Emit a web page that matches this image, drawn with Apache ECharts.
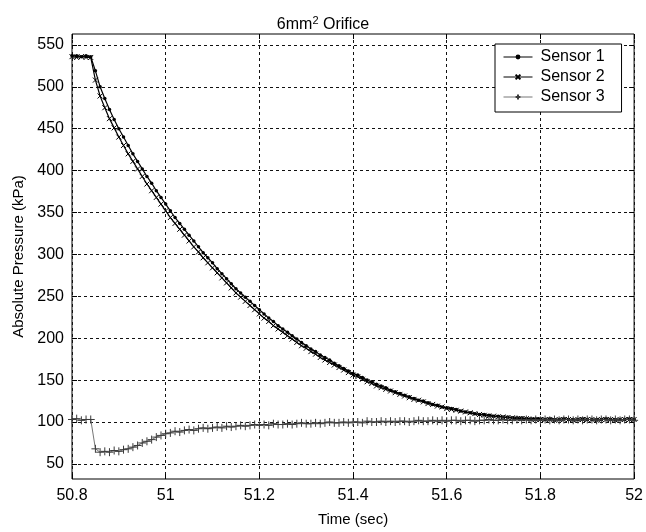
<!DOCTYPE html>
<html>
<head>
<meta charset="utf-8">
<script src="https://cdn.jsdelivr.net/npm/echarts@6/dist/echarts.min.js"></script>
<style>
  html, body { margin: 0; padding: 0; background: #fff; }
  #chart { width: 646px; height: 532px; }
</style>
</head>
<body>
<div id="chart"></div>
<script>
// Sampling clock: 50.80 s to 52.00 s every 10 ms
const tStart = 50.80;
const tStep = 0.01;

// Absolute pressure readings (kPa), one per sample
const sensor1 = [
  537, 537, 536, 537, 536,
  519, 500, 486, 473, 461, 450, 440, 430, 420, 411,
  402, 393, 385, 376, 368, 360, 352, 344, 337, 330,
  323, 316, 309, 302, 296, 290, 283, 277, 271, 265,
  259, 254, 249, 244, 239, 234, 229, 224, 220, 215,
  211, 207, 203, 199, 195, 191, 187, 184, 180, 177,
  174, 170, 167, 164, 161, 158, 156, 153, 150, 148,
  145, 143, 141, 138, 136, 134, 132, 130, 128, 126,
  125, 123, 121, 120, 118, 117, 116, 115, 113, 112,
  111, 110, 109, 109, 108, 107, 107, 106, 106, 105,
  105, 105, 104, 104, 104, 104,
  103, 104, 103, 103, 104, 103, 103, 103, 104, 103,
  103, 103, 103, 104, 103, 103, 103, 103, 104, 103
];

const sensor2 = [
  536, 535, 536, 535, 535,
  508, 489, 475, 462, 451, 440, 430, 420, 411, 402,
  393, 384, 376, 368, 360, 352, 344, 337, 330, 323,
  316, 309, 303, 296, 290, 284, 278, 272, 266, 260,
  254, 249, 244, 239, 234, 229, 224, 220, 215, 211,
  207, 203, 199, 195, 191, 188, 184, 181, 177, 174,
  171, 168, 165, 162, 159, 156, 154, 151, 148, 146,
  143, 141, 139, 137, 135, 133, 131, 129, 127, 126,
  124, 122, 121, 119, 118, 116, 115, 114, 113, 112,
  111, 110, 109, 108, 107, 107, 106, 106, 105, 105,
  104, 104, 104, 103, 103, 103,
  103, 103, 102, 103, 103, 103, 102, 103, 103, 103,
  103, 102, 103, 103, 103, 102, 103, 103, 103, 103
];

const sensor3 = [
  103, 104, 102, 103, 103,
  68, 64, 65, 64, 66, 65, 67, 68, 70, 72,
  75, 77, 79, 82, 84, 86, 87, 89, 88, 90,
  91, 90, 92, 93, 92, 93, 94, 93, 95, 94,
  95, 96, 95, 96, 97, 96, 97, 96, 98, 97,
  97, 98, 97, 98, 99, 98, 98, 99, 98, 99,
  100, 99, 99, 100, 99, 100, 100, 99, 101, 100,
  100, 101, 100, 101, 100, 101, 101, 100, 101, 102,
  101, 101, 102, 101, 102, 101, 102, 102, 101, 102,
  102, 101, 102, 102, 103, 102, 102, 103, 102, 102,
  103, 102, 103, 102, 103, 102,
  103, 102, 103, 102, 103, 103, 102, 103, 102, 103,
  103, 102, 103, 103, 102, 103, 102, 103, 103, 102
];

// Axis tick labels
const xTicks = [50.8, 51, 51.2, 51.4, 51.6, 51.8, 52];
const yTicks = [50, 100, 150, 200, 250, 300, 350, 400, 450, 500, 550];

function pairs(values) {
  return values.map((v, i) => [+(tStart + i * tStep).toFixed(2), v]);
}

const FONT = '"Liberation Sans", Arial, Helvetica, sans-serif';
const gridDash = { color: '#111', width: 1, type: [3, 3] };

const chart = echarts.init(document.getElementById('chart'), null, { renderer: 'canvas' });

chart.setOption({
  animation: false,
  backgroundColor: '#ffffff',
  textStyle: { fontFamily: FONT, color: '#000' },
  title: {
    text: '6mm{sup|2} Orifice',
    left: 'center',
    top: 10,
    textStyle: {
      fontFamily: FONT, fontSize: 16, fontWeight: 'normal', color: '#000',
      rich: {
        sup: { fontFamily: FONT, fontSize: 11, verticalAlign: 'top', padding: [0, 0, 8, 0], color: '#000' }
      }
    }
  },
  legend: {
    orient: 'vertical',
    left: 495,
    top: 44,
    padding: [5, 17, 7, 8],
    itemGap: 4,
    itemWidth: 29,
    itemHeight: 6,
    backgroundColor: '#fff',
    borderColor: '#000',
    borderWidth: 1,
    borderRadius: 0,
    lineStyle: { width: 1 },
    textStyle: { fontFamily: FONT, fontSize: 16, color: '#000', lineHeight: 16, padding: [0, 0, 0, 3] },
    data: ['Sensor 1', 'Sensor 2', 'Sensor 3']
  },
  grid: {
    left: 72, right: 10, top: 34, bottom: 52,
    show: true, borderColor: '#000', borderWidth: 1, backgroundColor: 'transparent'
  },
  xAxis: [
    {
      type: 'value',
      min: 50.8, max: 52, interval: 0.2,
      name: 'Time (sec)',
      nameLocation: 'middle',
      nameGap: 33,
      nameTextStyle: { fontFamily: FONT, fontSize: 15, color: '#000' },
      axisLine: { show: false },
      axisTick: { show: true, inside: true, length: 5, lineStyle: { color: '#000' } },
      axisLabel: { fontFamily: FONT, fontSize: 16, color: '#000', margin: 9 },
      splitLine: { show: true, lineStyle: gridDash }
    },
    {
      type: 'value', position: 'top',
      min: 50.8, max: 52, interval: 0.2,
      axisLine: { show: false },
      axisTick: { show: true, inside: true, length: 5, lineStyle: { color: '#000' } },
      axisLabel: { show: false },
      splitLine: { show: false }
    }
  ],
  yAxis: [
    {
      type: 'value',
      min: 32, max: 563,
      name: 'Absolute Pressure (kPa)',
      nameLocation: 'middle',
      nameGap: 46,
      nameTextStyle: { fontFamily: FONT, fontSize: 15, color: '#000' },
      axisLine: { show: false },
      axisTick: { show: true, inside: true, length: 5, lineStyle: { color: '#000' }, customValues: yTicks },
      axisLabel: { fontFamily: FONT, fontSize: 16, color: '#000', margin: 8, customValues: yTicks },
      splitLine: { show: true, lineStyle: gridDash }
    },
    {
      type: 'value', position: 'right',
      min: 32, max: 563,
      axisLine: { show: false },
      axisTick: { show: true, inside: true, length: 5, lineStyle: { color: '#000' }, customValues: yTicks },
      axisLabel: { show: false, customValues: yTicks },
      splitLine: { show: false }
    }
  ],
  series: [
    {
      name: 'Sensor 1',
      type: 'line',
      data: pairs(sensor1),
      symbol: 'circle',
      symbolSize: 3.5,
      showAllSymbol: true,
      itemStyle: { color: '#000' },
      lineStyle: { color: '#000', width: 1.2 },
      emphasis: { disabled: true }
    },
    {
      name: 'Sensor 2',
      type: 'line',
      data: pairs(sensor2),
      symbol: 'path://M0,0L8,8M8,0L0,8',
      symbolSize: 5,
      showAllSymbol: true,
      itemStyle: { color: 'rgba(0,0,0,0)', borderColor: '#000', borderWidth: 1 },
      lineStyle: { color: '#000', width: 1.2 },
      emphasis: { disabled: true }
    },
    {
      name: 'Sensor 3',
      type: 'line',
      data: pairs(sensor3),
      symbol: 'path://M4,0L4,8M0,4L8,4',
      symbolSize: 8,
      showAllSymbol: true,
      itemStyle: { color: 'rgba(0,0,0,0)', borderColor: '#3a3a3a', borderWidth: 1 },
      lineStyle: { color: '#777', width: 1 },
      emphasis: { disabled: true }
    }
  ]
});
</script>
</body>
</html>
